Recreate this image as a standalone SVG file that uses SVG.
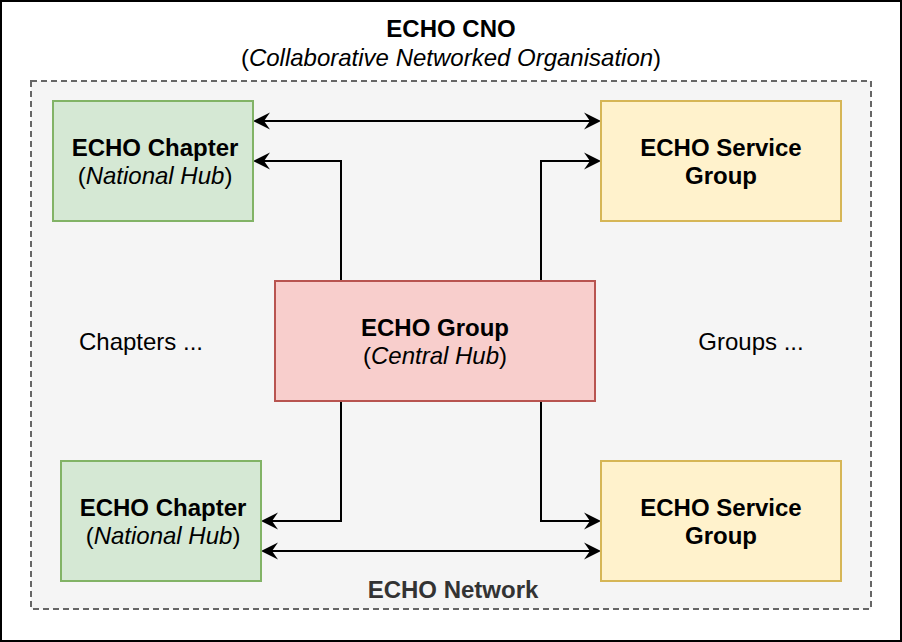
<svg xmlns="http://www.w3.org/2000/svg" width="902" height="642" viewBox="0 0 902 642">
<style>
text{font-family:"Liberation Sans",Arial,sans-serif;font-size:24px;text-anchor:middle;fill:#000}
.b{font-weight:bold}
.i{font-style:italic}
.ch{fill:#d5e8d4;stroke:#82b366;stroke-width:2}
.sg{fill:#fff2cc;stroke:#d6b656;stroke-width:2}
.hub{fill:#f8cecc;stroke:#b85450;stroke-width:2}
.c{fill:none;stroke:#000;stroke-width:2}
</style>
<defs>
<marker id="ar" viewBox="-8 -10 20 20" refX="0" refY="0" markerWidth="20" markerHeight="20" markerUnits="userSpaceOnUse" orient="auto-start-reverse">
<path d="M11,0 L-6,-8.5 L0,0 L-6,8.5 Z" fill="#000"/>
</marker>
</defs>
<rect x="1" y="1" width="900" height="640" fill="#fff" stroke="#000" stroke-width="2"/>
<g id="network">
<rect x="31" y="81" width="840" height="528" fill="#f5f5f5" stroke="#666" stroke-width="2" stroke-dasharray="6 4"/>
<text x="453" y="598" class="b" style="fill:#333">ECHO Network</text>
</g>
<g id="title">
<text x="451" y="37" class="b">ECHO CNO</text>
<text x="451" y="66">(<tspan class="i">Collaborative Networked Organisation</tspan>)</text>
</g>
<g id="connectors">
<path class="c" d="M264,121 H590" marker-start="url(#ar)" marker-end="url(#ar)"/>
<path class="c" d="M341,281 V161 H264" marker-end="url(#ar)"/>
<path class="c" d="M541,281 V161 H590" marker-end="url(#ar)"/>
<path class="c" d="M341,401 V521 H272" marker-end="url(#ar)"/>
<path class="c" d="M541,401 V521 H590" marker-end="url(#ar)"/>
<path class="c" d="M272,551 H590" marker-start="url(#ar)" marker-end="url(#ar)"/>
</g>
<g id="chapter-top">
<rect class="ch" x="53" y="101" width="200" height="120"/>
<text x="155" y="156" class="b">ECHO Chapter</text>
<text x="155" y="184">(<tspan class="i">National Hub</tspan>)</text>
</g>
<g id="service-top">
<rect class="sg" x="601" y="101" width="240" height="120"/>
<text x="721" y="156" class="b">ECHO Service</text>
<text x="721" y="184" class="b">Group</text>
</g>
<g id="group-central">
<rect class="hub" x="275" y="281" width="320" height="120"/>
<text x="435" y="336" class="b">ECHO Group</text>
<text x="435" y="364">(<tspan class="i">Central Hub</tspan>)</text>
</g>
<g id="chapters-more">
<text x="141" y="350">Chapters ...</text>
</g>
<g id="groups-more">
<text x="751" y="350">Groups ...</text>
</g>
<g id="chapter-bottom">
<rect class="ch" x="61" y="461" width="200" height="120"/>
<text x="163" y="516" class="b">ECHO Chapter</text>
<text x="163" y="544">(<tspan class="i">National Hub</tspan>)</text>
</g>
<g id="service-bottom">
<rect class="sg" x="601" y="461" width="240" height="120"/>
<text x="721" y="516" class="b">ECHO Service</text>
<text x="721" y="544" class="b">Group</text>
</g>
</svg>
